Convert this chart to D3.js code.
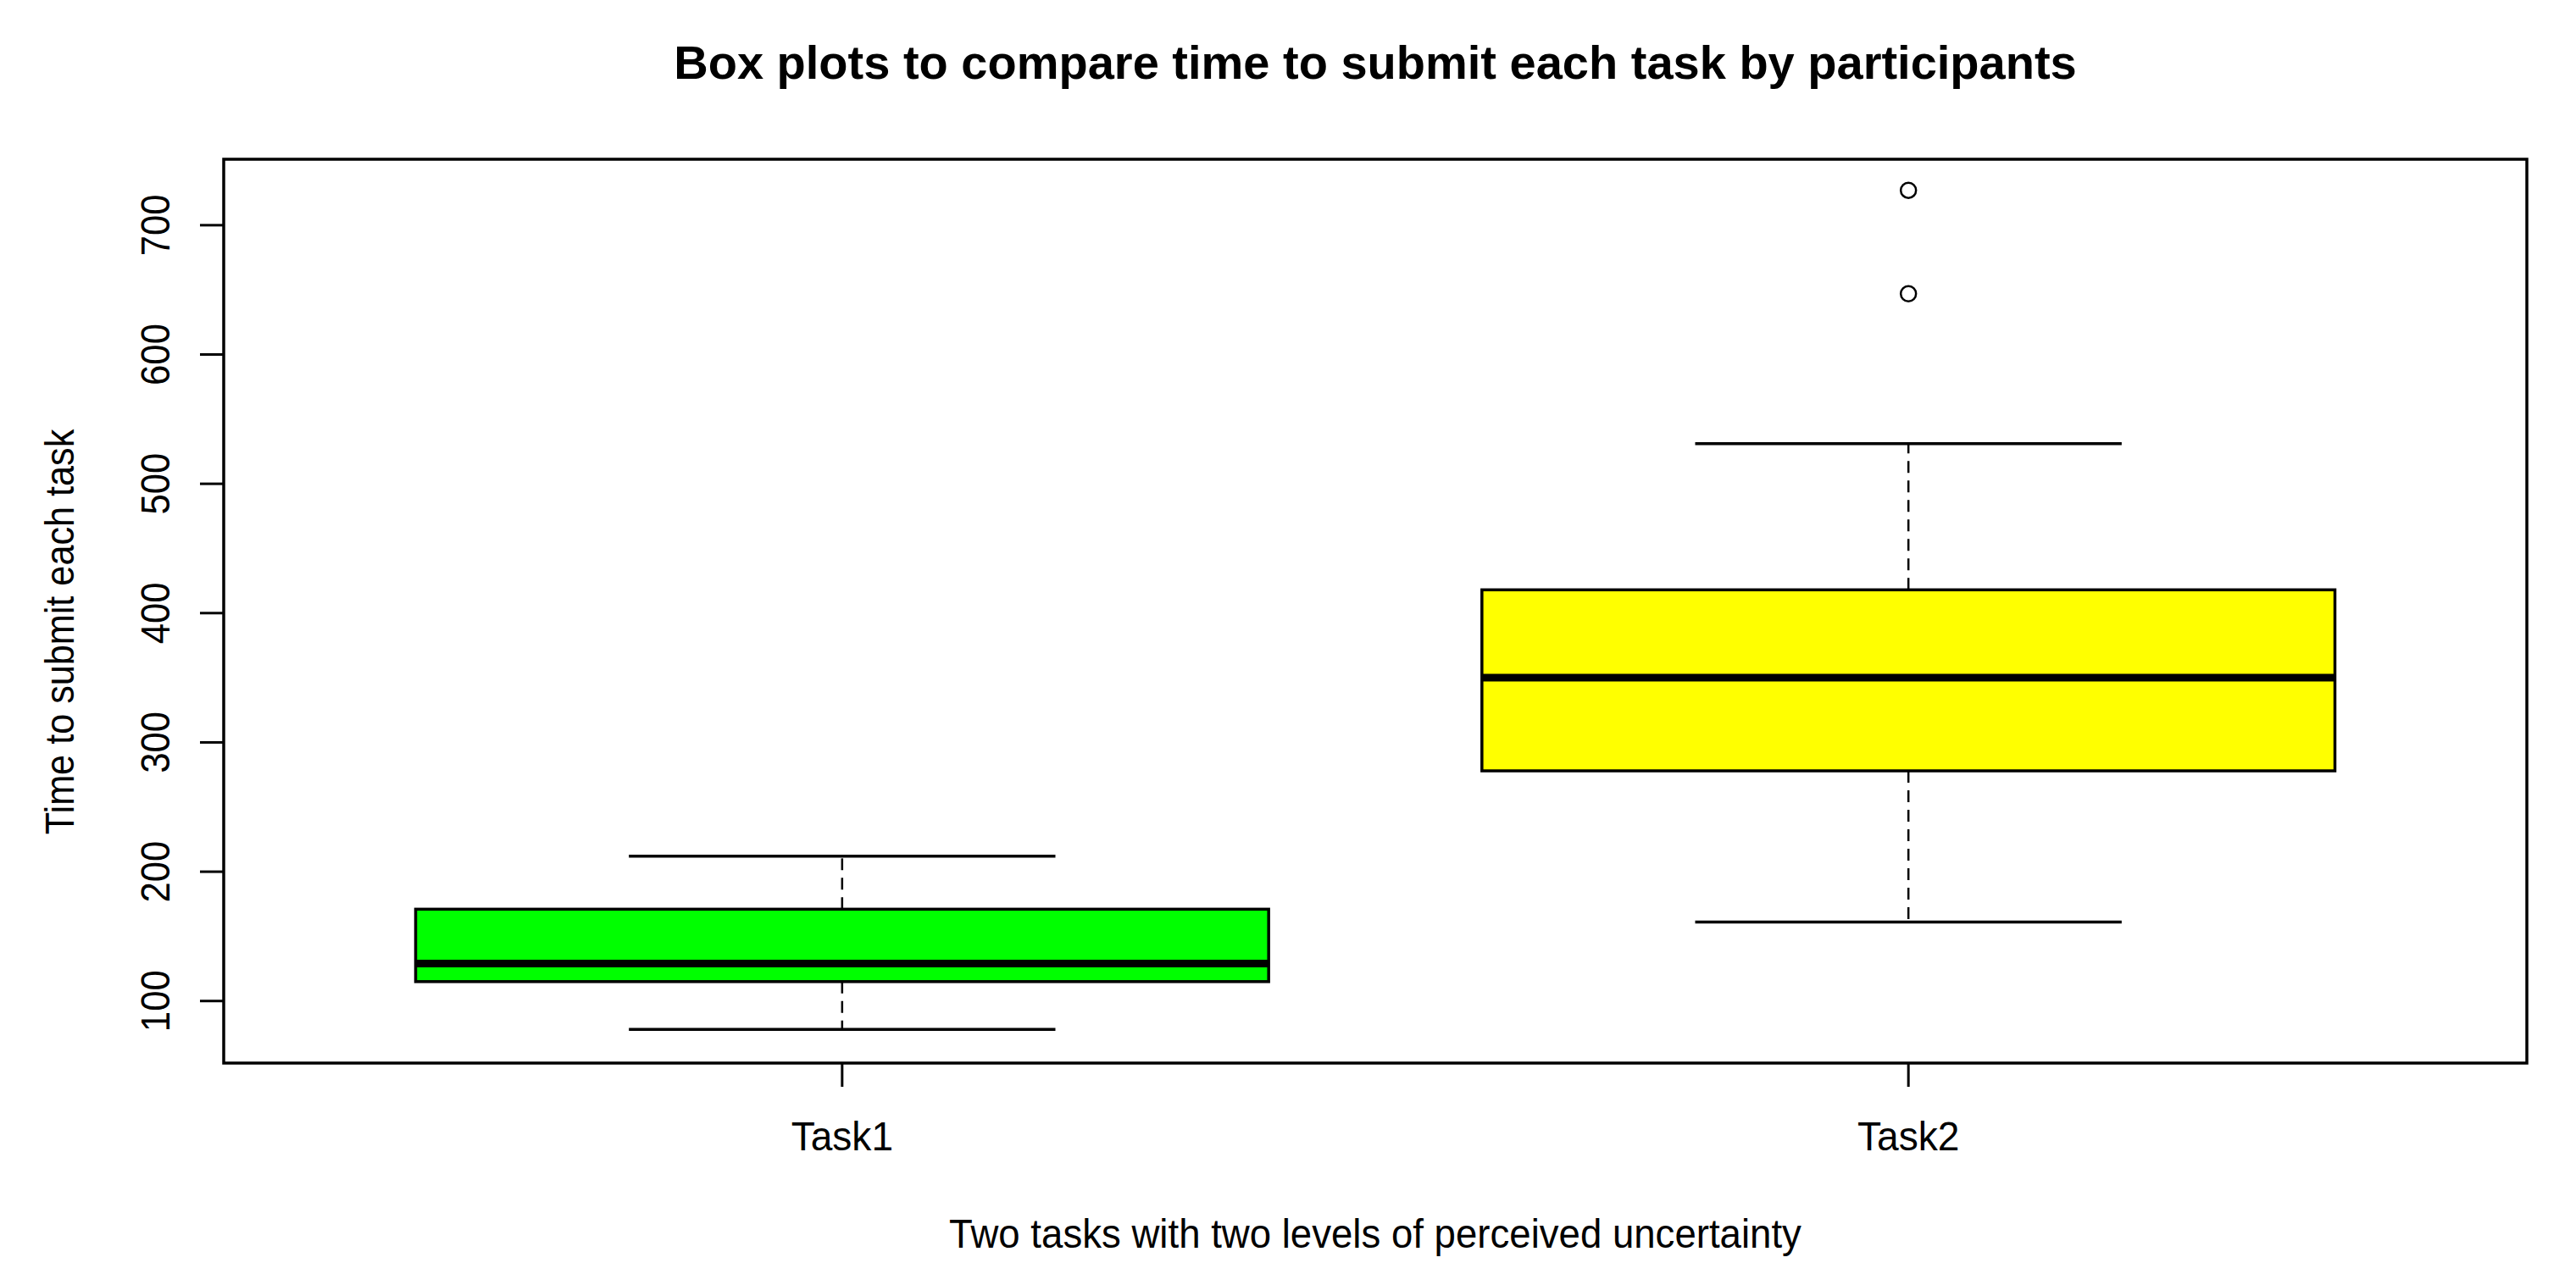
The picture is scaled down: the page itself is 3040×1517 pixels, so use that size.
<!DOCTYPE html>
<html lang="en">
<head>
  <meta charset="UTF-8">
  <title>Box plots to compare time to submit each task by participants</title>
  <style>
    body {
      margin: 0;
      background: #fff;
      font-family: "Liberation Sans", Arial, sans-serif;
    }
    svg text {
      fill: #000;
    }
  </style>
  <script src="https://d3js.org/d3.v7.min.js"></script>
</head>
<body>
  <div id="chart"></div>

  <script>
    // box plot summaries
    const tasks = ["Task1", "Task2"];
    const fills = ["#00ff00", "#ffff00"];
    const whiskerLow = [78, 161];
    const q1 = [115, 278];
    const median = [129, 350];
    const q3 = [171, 418];
    const whiskerHigh = [212, 531];
    const outliers = [[], [647, 727]];
    const yTicks = [100, 200, 300, 400, 500, 600, 700];

    const W = 3040, H = 1517;
    const plot = {left: 264, right: 2982, top: 188, bottom: 1255};

    const svg = d3.select("#chart")
      .append("svg")
      .attr("width", W)
      .attr("height", H);

    // R style: range padded by 4%, groups at 1 and 2
    const x = d3.scaleLinear().domain([0.42, 2.58]).range([plot.left, plot.right]);
    const y = d3.scaleLinear().domain([52, 751]).range([plot.bottom, plot.top]);

    const boxes = tasks.map((t, i) => ({
      name: t, pos: i + 1, fill: fills[i],
      lo: whiskerLow[i], q1: q1[i], med: median[i], q3: q3[i], hi: whiskerHigh[i],
      out: outliers[i]
    }));

    const g = svg.selectAll("g.box").data(boxes).enter().append("g").attr("class", "box");

    // dashed whiskers
    g.append("line")
      .attr("x1", d => x(d.pos)).attr("x2", d => x(d.pos))
      .attr("y1", d => y(d.q3)).attr("y2", d => y(d.hi))
      .attr("stroke", "#000").attr("stroke-width", 2.5).attr("stroke-dasharray", "14,9");
    g.append("line")
      .attr("x1", d => x(d.pos)).attr("x2", d => x(d.pos))
      .attr("y1", d => y(d.q1)).attr("y2", d => y(d.lo))
      .attr("stroke", "#000").attr("stroke-width", 2.5).attr("stroke-dasharray", "14,9");

    // whisker caps
    g.selectAll("line.cap").data(d => [d.lo, d.hi].map(v => ({pos: d.pos, v: v})))
      .enter().append("line").attr("class", "cap")
      .attr("x1", d => x(d.pos - 0.2)).attr("x2", d => x(d.pos + 0.2))
      .attr("y1", d => y(d.v)).attr("y2", d => y(d.v))
      .attr("stroke", "#000").attr("stroke-width", 3.5);

    // box
    g.append("rect")
      .attr("x", d => x(d.pos - 0.4))
      .attr("width", d => x(d.pos + 0.4) - x(d.pos - 0.4))
      .attr("y", d => y(d.q3))
      .attr("height", d => y(d.q1) - y(d.q3))
      .attr("fill", d => d.fill)
      .attr("stroke", "#000").attr("stroke-width", 3.5);

    // median
    g.append("line")
      .attr("x1", d => x(d.pos - 0.4)).attr("x2", d => x(d.pos + 0.4))
      .attr("y1", d => y(d.med)).attr("y2", d => y(d.med))
      .attr("stroke", "#000").attr("stroke-width", 9);

    // outliers
    g.selectAll("circle").data(d => d.out.map(v => ({pos: d.pos, v: v})))
      .enter().append("circle")
      .attr("cx", d => x(d.pos)).attr("cy", d => y(d.v))
      .attr("r", 9)
      .attr("fill", "none").attr("stroke", "#000").attr("stroke-width", 2.5);

    // frame
    svg.append("rect")
      .attr("x", plot.left).attr("y", plot.top)
      .attr("width", plot.right - plot.left).attr("height", plot.bottom - plot.top)
      .attr("fill", "none").attr("stroke", "#000").attr("stroke-width", 3.5);

    // y axis (labels a bit narrow, like the original)
    const yAxis = svg.append("g").attr("transform", `translate(${plot.left},0)`);
    yAxis.selectAll("line").data(yTicks).enter().append("line")
      .attr("x1", -28).attr("x2", 0)
      .attr("y1", d => y(d)).attr("y2", d => y(d))
      .attr("stroke", "#000").attr("stroke-width", 3);
    yAxis.selectAll("text").data(yTicks).enter().append("text")
      .attr("transform", d => `translate(-64,${y(d)}) rotate(-90) scale(0.91,1)`)
      .attr("text-anchor", "middle")
      .style("font-size", "48px")
      .text(d => d);

    // x axis
    const xAxis = svg.append("g").attr("transform", `translate(0,${plot.bottom})`);
    xAxis.selectAll("line").data(boxes).enter().append("line")
      .attr("x1", d => x(d.pos)).attr("x2", d => x(d.pos))
      .attr("y1", 0).attr("y2", 28)
      .attr("stroke", "#000").attr("stroke-width", 3);
    xAxis.selectAll("text").data(boxes).enter().append("text")
      .attr("transform", d => `translate(${x(d.pos)},103) scale(0.96,1)`)
      .attr("text-anchor", "middle")
      .style("font-size", "48px")
      .text(d => d.name);

    // titles
    svg.append("text")
      .attr("x", (plot.left + plot.right) / 2).attr("y", 93)
      .attr("text-anchor", "middle")
      .style("font-size", "56px").style("font-weight", "bold")
      .text("Box plots to compare time to submit each task by participants");

    svg.append("text")
      .attr("transform", `translate(${(plot.left + plot.right) / 2},1473) scale(0.95,1)`)
      .attr("text-anchor", "middle")
      .style("font-size", "48px")
      .text("Two tasks with two levels of perceived uncertainty");

    svg.append("text")
      .attr("transform", `translate(87,746) rotate(-90) scale(0.9,1)`)
      .attr("text-anchor", "middle")
      .style("font-size", "48px")
      .text("Time to submit each task");
  </script>
</body>
</html>
